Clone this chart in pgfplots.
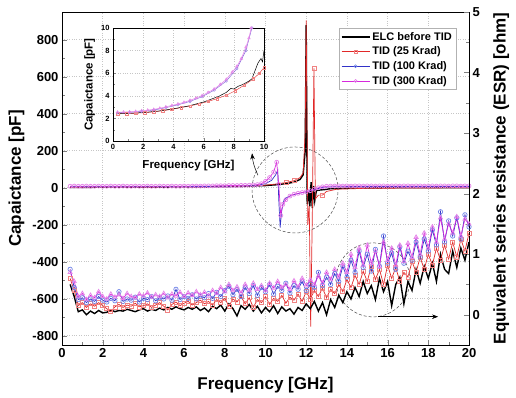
\documentclass[border=0pt]{standalone}
\usepackage{pgfplots}
\pgfplotsset{compat=1.18}
\usepackage{pgfplotstable}
\usepackage{fontspec}
\setmainfont{Liberation Sans}
\usetikzlibrary{arrows.meta}

\definecolor{cred}{RGB}{225,40,40}
\definecolor{credm}{RGB}{240,130,130}
\definecolor{cblue}{RGB}{50,50,200}
\definecolor{cbluem}{RGB}{110,130,230}
\definecolor{cmag}{RGB}{215,40,220}
\definecolor{cmagm}{RGB}{228,130,232}

\pgfplotstableread{
x blk red blu mag
0.4 0.50 0.60 0.75 0.70
0.6 0.30 0.40 0.45 0.55
0.8 0.05 0.15 0.25 0.30
1.0 0.08 0.20 0.28 0.35
1.2 0.00 0.12 0.20 0.25
1.4 0.06 0.18 0.26 0.32
1.6 0.02 0.14 0.22 0.28
1.8 0.07 0.20 0.30 0.38
2.0 0.03 0.15 0.24 0.30
2.2 0.04 0.10 0.21 0.26
2.4 0.08 0.05 0.27 0.34
2.6 0.05 0.13 0.23 0.29
2.8 0.07 0.17 0.38 0.33
3.0 0.06 0.12 0.22 0.27
3.2 0.09 0.16 0.26 0.35
3.4 0.07 0.14 0.24 0.30
3.6 0.05 0.19 0.29 0.28
3.8 0.08 0.13 0.21 0.34
4.0 0.10 0.15 0.27 0.31
4.2 0.06 0.18 0.25 0.36
4.4 0.09 0.12 0.30 0.29
4.6 0.07 0.16 0.23 0.33
4.8 0.11 0.20 0.28 0.30
5.0 0.08 0.14 0.26 0.35
5.2 0.12 0.08 0.31 0.28
5.4 0.09 0.17 0.24 0.34
5.6 0.13 0.21 0.42 0.31
5.8 0.10 0.15 0.25 0.37
6.0 0.08 0.19 0.30 0.30
6.2 0.12 0.22 0.27 0.36
6.4 0.09 0.16 0.33 0.32
6.6 0.13 0.20 0.26 0.38
6.8 0.07 0.24 0.31 0.33
7.0 0.11 0.18 0.28 0.37
7.2 0.05 0.22 0.35 0.31
7.4 0.14 0.16 0.27 0.40
7.6 0.10 0.25 0.37 0.35
7.8 0.16 0.20 0.30 0.45
8.0 0.06 0.27 0.40 0.38
8.2 0.18 0.14 0.47 0.50
8.4 0.10 0.26 0.33 0.40
8.6 -0.02 0.21 0.42 0.46
8.8 0.15 0.30 0.30 0.36
9.0 0.09 0.18 0.45 0.50
9.2 0.17 0.28 0.35 0.40
9.4 0.06 0.12 0.48 0.52
9.6 0.14 0.25 0.32 0.42
9.8 0.03 0.20 0.45 0.48
10.0 0.12 0.30 0.38 0.40
10.2 0.05 0.17 0.50 0.52
10.4 0.15 0.27 0.34 0.44
10.6 0.02 0.22 0.47 0.55
10.8 0.13 0.32 0.40 0.45
11.0 0.06 0.19 0.52 0.50
11.2 0.10 0.29 0.36 0.42
11.4 0.01 0.24 0.48 0.56
11.6 0.12 0.34 0.42 0.46
11.8 0.07 0.22 0.55 0.60
12.0 0.18 0.38 0.40 0.48
12.2 0.10 0.26 0.50 0.58
12.4 0.22 0.40 0.45 0.50
12.6 0.06 0.30 0.70 0.64
12.8 0.20 0.44 0.48 0.52
13.0 0.00 0.28 0.62 0.70
13.2 0.25 0.42 0.50 0.58
13.4 0.12 0.35 0.68 0.75
13.6 0.32 0.50 0.55 0.62
13.8 0.20 0.38 0.80 0.85
14.0 0.38 0.58 0.62 0.70
14.2 0.26 0.45 0.90 1.00
14.4 0.45 0.65 0.70 0.78
14.6 0.30 0.50 1.05 1.10
14.8 0.55 0.72 0.78 0.82
15.0 0.35 0.55 1.00 1.15
15.2 0.48 0.80 0.72 0.85
15.4 0.25 0.58 1.08 1.05
15.6 0.60 0.75 0.80 0.80
15.8 0.38 0.50 1.30 1.20
16.0 0.55 0.82 0.85 0.90
16.2 0.15 0.60 1.02 1.10
16.4 0.50 0.78 0.75 0.82
16.6 0.62 0.55 1.12 1.15
16.8 0.18 0.70 0.85 0.88
17.0 0.55 0.62 1.05 1.18
17.2 0.40 0.88 0.90 0.95
17.4 0.75 0.70 1.20 1.28
17.6 0.52 0.95 0.95 1.00
17.8 0.80 0.75 1.25 1.35
18.0 0.60 1.00 1.05 1.10
18.2 0.85 0.82 1.40 1.45
18.4 0.55 1.10 1.15 1.20
18.6 1.00 0.90 1.70 1.60
18.8 0.75 1.15 1.20 1.25
19.0 0.68 0.92 1.55 1.50
19.2 1.05 1.20 1.30 1.35
19.4 0.78 0.95 1.60 1.62
19.6 1.10 1.25 1.25 1.30
19.8 0.90 1.05 1.65 1.58
20.0 1.20 1.35 1.45 1.50
}\esr

\pgfplotsset{
  common/.style={
    scale only axis, width=407pt, height=333pt,
    xmin=0, xmax=20,
    tick align=inside,
    major tick length=5pt, minor tick length=3pt,
    /pgf/number format/assume math mode=true,
    tick label style={font=\fontsize{13}{13}\selectfont\bfseries},
    label style={font=\fontsize{17}{17}\selectfont\bfseries},
  },
}

\begin{document}
\begin{tikzpicture}
% ---------- main axis: capacitance ----------
\begin{axis}[common,
  at={(0pt,0pt)}, anchor=south west,
  ymin=-850, ymax=950,
  xtick={0,2,...,20}, minor x tick num=1,
  ytick={-800,-600,...,800}, minor y tick num=1,
  xtick pos=left, ytick pos=left,
  grid=major, major grid style={dotted, gray!45, line width=0.6pt},
  xlabel={Frequency [GHz]},
  ylabel={Capaictance [pF]},
  xlabel style={at={(axis description cs:0.5,-0.12)}, anchor=center},
  ylabel style={at={(axis description cs:-0.112,0.5)}, anchor=center},
  legend style={at={(0.968,0.952)}, anchor=north east, draw=gray!60, line width=0.4pt,
    font=\fontsize{11}{12}\selectfont\bfseries, inner sep=2pt, row sep=1.2pt,
    cells={anchor=west}},
  legend image code/.code={\draw[mark repeat=2,mark phase=2,#1] plot coordinates {(0pt,0pt)(14pt,0pt)(28pt,0pt)};},
]
\addlegendimage{black, line width=1.6pt}
\addlegendentry{ELC before TID}
\addlegendimage{cred, line width=0.6pt, mark=square, mark size=1.4pt, mark options={draw=credm, fill=none, solid}}
\addlegendentry{TID (25 Krad)}
\addlegendimage{cblue, line width=0.6pt, mark=o, mark size=1.5pt, mark options={draw=cbluem, fill=none, solid}}
\addlegendentry{TID (100 Krad)}
\addlegendimage{cmag, line width=0.6pt, mark=o, mark size=1.5pt, mark options={draw=cmagm, fill=none, solid}}
\addlegendentry{TID (300 Krad)}

% black
\addplot[forget plot, black, line width=1.4pt] coordinates {
(0.4,2)(3,3)(6,4)(8,6)(9,8)(9.6,10)(10,12)(10.5,16)(11.0,22)(11.4,30)(11.7,45)(11.85,70)
(11.95,200)(12.0,880)(12.05,-90)(12.12,-20)(12.18,-100)(12.24,30)(12.3,-110)(12.36,10)
(12.42,-70)(12.5,-15)(12.7,-12)(12.9,-10)(13.2,-5)(14,-2)(16,0)(20,1)};
% red
\addplot[forget plot, cred, line width=0.7pt, mark=square, mark size=2pt,
  mark options={draw=credm, fill=none, solid}, mark indices={8,9,18,21}] coordinates {
(0.4,3)(3,4)(6,5)(8,7)(9,9)(10,14)(10.5,20)(11.0,28)(11.4,38)(11.7,55)(11.85,80)
(11.95,300)(12.0,905)(12.08,-200)(12.15,-100)(12.22,-750)(12.3,-150)(12.38,645)
(12.45,-60)(12.6,-40)(12.8,-40)(13.0,-20)(13.5,-8)(15,-3)(20,0)};
% blue
\addplot[forget plot, cblue, line width=0.7pt] coordinates {
(0.4,5)(2,5)(4,6)(6,6)(8,8)(9,10)(9.6,14)(10.0,22)(10.3,40)(10.5,70)(10.6,95)
(10.65,-60)(10.72,-215)(10.8,-120)(10.9,-70)(11.0,-55)(11.3,-40)(11.6,-32)(12.0,-22)
(12.4,-10)(12.8,2)(13.4,6)(16,7)(20,7)};
% magenta
\addplot[forget plot, cmag, line width=0.7pt, mark=o, mark size=2pt,
  mark options={draw=cmagm, fill=none, solid}] coordinates {
(0.4,8)(0.6,9)(0.8,8)(1.0,8)(1.2,9)(1.4,8)(1.6,8)(1.8,9)(2.0,8)(2.2,8)(2.4,9)(2.6,8)
(2.8,8)(3.0,9)(3.2,8)(3.4,8)(3.6,9)(3.8,8)(4.0,8)(4.2,9)(4.4,8)(4.6,8)(4.8,9)(5.0,8)
(5.2,8)(5.4,9)(5.6,8)(5.8,8)(6.0,9)(6.2,8)(6.4,9)(6.6,9)(6.8,9)(7.0,10)(7.2,10)(7.4,10)
(7.6,11)(7.8,11)(8.0,11)(8.2,12)(8.4,12)(8.6,12)(8.8,13)(9.0,13)(9.2,14)(9.4,15)(9.6,17)
(9.8,22)(10.0,35)(10.2,55)(10.4,85)(10.55,138)(10.65,20)(10.75,-150)(10.85,-90)(11.0,-65)
(11.2,-45)(11.4,-35)(11.6,-30)(11.8,-26)(12.0,-22)(12.2,-16)(12.4,-8)(12.6,0)(12.8,5)
(13.0,8)(13.2,9)(13.4,9)(13.6,10)(13.8,9)(14.0,10)(14.2,9)(14.4,10)(14.6,10)(14.8,9)
(15.0,10)(15.2,10)(15.4,9)(15.6,10)(15.8,10)(16.0,9)(16.2,10)(16.4,10)(16.6,9)(16.8,10)
(17.0,10)(17.2,9)(17.4,10)(17.6,10)(17.8,9)(18.0,10)(18.2,10)(18.4,9)(18.6,10)(18.8,10)
(19.0,9)(19.2,10)(19.4,10)(19.6,9)(19.8,10)(20.0,10)};

% annotations
\draw[densely dashed, gray!60!black, line width=0.5pt] (axis cs:11.45,-12) circle[radius=43pt];
\draw[densely dashed, gray!60!black, line width=0.5pt] (axis cs:15.28,-498) circle[radius=37pt];
\draw[-{Stealth[length=6pt]}, black, line width=0.5pt] (axis cs:15.53,-697) -- (axis cs:18.48,-697);
\draw[-{Stealth[length=6pt]}, black, line width=0.5pt] (axis cs:9.63,68) to[bend left=10] (axis cs:9.34,186);
\end{axis}

% ---------- right axis: ESR ----------
\begin{axis}[common,
  at={(0pt,0pt)}, anchor=south west,
  ymin=-0.5, ymax=5,
  axis x line=none, axis y line*=right,
  ytick={0,1,...,5}, minor y tick num=1,
  ylabel={Equivalent series resistance (ESR) [ohm]},
  ylabel style={at={(axis description cs:1.079,0.5)}, anchor=center, rotate=0},
]
\addplot[black, line width=1.4pt] table[x=x, y=blk] {\esr};
\addplot[cred, line width=0.7pt, mark=square, mark size=2pt, mark options={draw=credm, fill=none, solid}] table[x=x, y=red] {\esr};
\addplot[cblue, line width=0.7pt, mark=o, mark size=2.2pt, mark options={draw=cbluem, fill=none, solid}] table[x=x, y=blu] {\esr};
\addplot[cmag, line width=0.7pt, mark=triangle, mark size=2.4pt, mark options={draw=cmagm, fill=none, solid}] table[x=x, y=mag] {\esr};
\end{axis}

% ---------- inset ----------
\begin{axis}[
  scale only axis, width=151pt, height=113pt,
  at={(51pt,204pt)}, anchor=south west,
  xmin=0, xmax=10, ymin=0, ymax=10,
  xtick={0,2,...,10}, ytick={0,2,...,10},
  minor x tick num=1, minor y tick num=1,
  tick align=inside, major tick length=3pt, minor tick length=1.5pt,
  /pgf/number format/assume math mode=true,
  tick label style={font=\fontsize{7.5}{8}\selectfont\bfseries},
  label style={font=\fontsize{11.5}{12}\selectfont\bfseries},
  grid=major, major grid style={dotted, gray!45, line width=0.5pt},
  axis background/.style={fill=white},
  xlabel={Frequency [GHz]}, ylabel={Capaictance [pF]},
  xlabel style={at={(axis description cs:0.5,-0.22)}, anchor=center},
  ylabel style={at={(axis description cs:-0.155,0.5)}, anchor=center},
  xtick pos=left, ytick pos=left,
]
\addplot[cred, line width=0.4pt, mark=square, mark size=1.2pt, mark options={draw=credm, fill=none, solid}] coordinates {
(0.3,2.4)(0.9,2.42)(1.5,2.46)(2.1,2.5)(2.7,2.58)(3.3,2.68)(3.9,2.8)(4.5,2.95)(5.1,3.1)
(5.7,3.28)(6.3,3.5)(6.9,3.75)(7.5,4.05)(8.1,4.45)(8.7,4.95)(9.3,5.5)(9.7,6.0)(10,6.5)};
\addplot[black, line width=0.5pt] coordinates {
(0.3,2.45)(1,2.45)(2,2.52)(3,2.65)(4,2.85)(5,3.1)(6,3.45)(6.5,3.7)(7,3.95)(7.5,4.3)
(7.8,4.65)(8,4.6)(8.3,4.85)(8.6,5.0)(9,5.3)(9.2,5.5)(9.4,6.2)(9.6,6.9)(9.8,7.3)(9.9,7.0)(10,8.0)};
\addplot[cblue!60!cmagm, line width=0.4pt, mark=o, mark size=1.3pt, mark options={draw=cbluem!60!cmagm, fill=none, solid}] coordinates {
(0.3,2.5)(1.1,2.53)(1.9,2.62)(2.7,2.74)(3.5,2.95)(4.3,3.2)(5.1,3.5)(5.9,3.92)(6.7,4.5)
(7.5,5.3)(8.2,6.4)(8.8,8.0)(9.2,10)};
\addplot[cmagm, line width=0.5pt, mark=triangle, mark size=1.5pt, mark options={draw=cmagm, fill=none, solid}] coordinates {
(0.3,2.55)(0.7,2.56)(1.1,2.58)(1.5,2.62)(1.9,2.68)(2.3,2.73)(2.7,2.8)(3.1,2.9)(3.5,3.02)
(3.9,3.15)(4.3,3.28)(4.7,3.42)(5.1,3.6)(5.5,3.8)(5.9,4.02)(6.3,4.3)(6.7,4.6)(7.1,5.0)
(7.5,5.45)(7.9,6.1)(8.2,6.6)(8.5,7.3)(8.8,8.3)(9.0,9.1)(9.15,10)};
\end{axis}

\pgfresetboundingbox
\path[use as bounding box] (-62pt,-53pt) rectangle (454pt,345pt);
\end{tikzpicture}
\end{document}
